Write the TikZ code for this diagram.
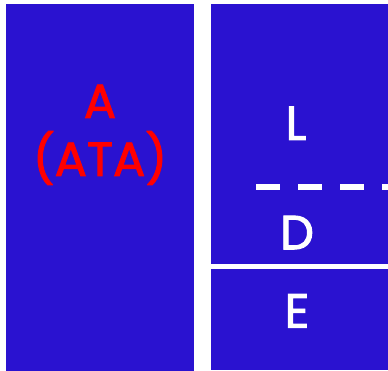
\documentclass[tikz,border=0pt]{standalone}
\usepackage{fontspec}
\setmainfont{Poppins}
\newfontfamily\tagfont{Poppins}[FakeBold=2]
\usetikzlibrary{positioning}
\definecolor{panelblue}{RGB}{42,18,208}

\begin{document}
\begin{tikzpicture}[x=1pt, y=-1pt,
        panel/.style={fill=panelblue, draw=none, inner sep=0pt, outer sep=0pt, anchor=north west},
        tag/.style={font=\tagfont\fontsize{48}{58}\selectfont, inner sep=0pt, anchor=base},
        dashline/.style={draw=white, line width=6pt, dash pattern=on 24pt off 18pt}
      ]
      \fill[white] (0,0) rectangle (388,371);
      \useasboundingbox (0,0) rectangle (388,371);
      % left block
      \node[panel, minimum width=188pt, minimum height=367pt] (left) at (6,4) {};
      \node[tag, text=red] (atitle) at (100,118) {A};
      \node[tag, text=red] (asub) at (100,176) {(ATA)};
      % right block, split in two by a white gap
      \node[panel, minimum width=177pt, minimum height=260.5pt] (ld) at (211,4) {};
      \node[panel, minimum width=177pt, minimum height=100.5pt] (e) at (211,269.5) {};
      \coordinate (dashstart) at (256,186.7);
      \draw[dashline] (dashstart) -- (dashstart -| ld.east);
      \node[tag, text=white] (ltag) at (296,140) {L};
      \node[tag, text=white] (dtag) at (297,249.3) {D};
      \node[tag, text=white] (etag) at (297,327.7) {E};
    \end{tikzpicture}
\end{document}
